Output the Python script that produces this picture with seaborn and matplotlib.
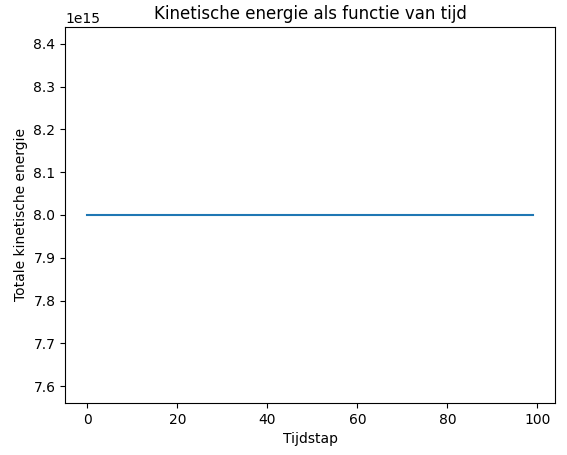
import numpy as np
import pandas as pd
import seaborn as sns
import matplotlib.pyplot as plt

# Data: the total kinetic energy stays at 8.0e15 for every step
tijdstap = list(range(100))
energie = [8.0e15] * 100

df = pd.DataFrame({'Tijdstap': tijdstap, 'Energie': energie})

fig, ax = plt.subplots(figsize=(5.67, 4.55), dpi=100)
sns.lineplot(data=df, x='Tijdstap', y='Energie', ax=ax)

ax.set_title('Kinetische energie als functie van tijd')
ax.set_xlabel('Tijdstap')
ax.set_ylabel('Totale kinetische energie')

fig.subplots_adjust(left=0.115, right=0.979, top=0.941, bottom=0.114)
plt.savefig('out.png', dpi=100)
